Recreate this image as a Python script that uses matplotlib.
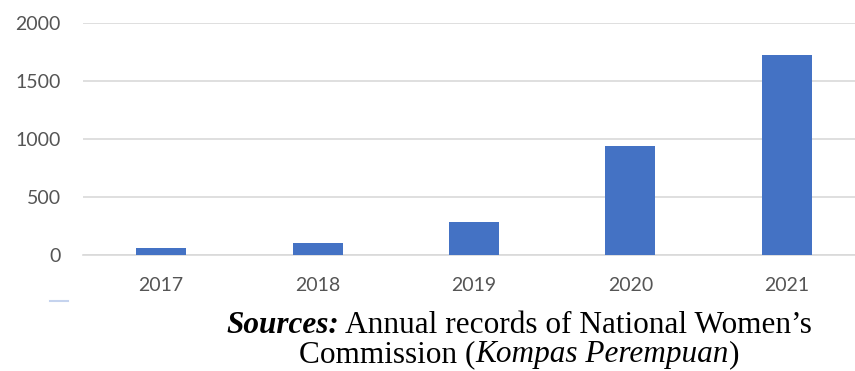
import matplotlib
matplotlib.use("Agg")
import matplotlib.pyplot as plt
from matplotlib.lines import Line2D

years = ["2017", "2018", "2019", "2020", "2021"]
cases = [60, 100, 280, 940, 1721]
y_ticks = [0, 500, 1000, 1500, 2000]

caption_line1 = [("Sources:", "italic", "bold"),
                 (" Annual records of National Women\u2019s", "normal", "normal")]
caption_line2 = [("Commission (", "normal", "normal"),
                 ("Kompas Perempuan", "italic", "normal"),
                 (")", "normal", "normal")]


def put_line(fig, pieces, center_x, y, size):
    """Writes one line of mixed-style text centred on center_x (pixels)."""
    renderer = fig.canvas.get_renderer()
    texts = []
    for s, style, weight in pieces:
        t = fig.text(0, y, s, fontsize=size, family="Liberation Serif",
                     style=style, weight=weight, color="black",
                     va="baseline", ha="left", transform=None)
        texts.append(t)
    widths = [t.get_window_extent(renderer).width for t in texts]
    x = center_x - sum(widths) / 2
    for t, w in zip(texts, widths):
        t.set_x(x)
        x += w


def main():
    W, H = 855, 371
    fig = plt.figure(figsize=(W / 100, H / 100), dpi=100)
    left, right = 83, 865
    top, bottom = 23, 254.5
    ax = fig.add_axes([left / W, (H - bottom) / H,
                       (right - left) / W, (bottom - top) / H])
    ax.bar(range(len(years)), cases, width=0.32, color="#4472C4", zorder=3)
    ax.set_xlim(-0.5, len(years) - 0.5)
    ax.set_ylim(0, 2000)
    ax.set_yticks(y_ticks)
    ax.set_xticks(range(len(years)))
    ax.set_xticklabels(years)
    ax.grid(axis="y", color="#d9d9d9", linewidth=1.2, zorder=0)
    for side in ["top", "right", "left"]:
        ax.spines[side].set_visible(False)
    ax.spines["bottom"].set_color("#d9d9d9")
    ax.spines["bottom"].set_linewidth(1.2)
    ax.tick_params(axis="both", length=0, labelsize=14, labelcolor="#555555")
    ax.tick_params(axis="y", pad=16)
    ax.tick_params(axis="x", pad=16)
    for lab in ax.get_xticklabels() + ax.get_yticklabels():
        lab.set_family("Lato")

    # cropped legend remnant
    fig.add_artist(Line2D([50 / W, 68 / W], [(H - 301) / H, (H - 301) / H],
                          color="#c5d3ee", linewidth=1.5))

    put_line(fig, caption_line1, 519, H - 333, 22.5)
    put_line(fig, caption_line2, 519, H - 362, 22.5)

    fig.savefig("out.png", dpi=100)


if __name__ == '__main__':
    main()
